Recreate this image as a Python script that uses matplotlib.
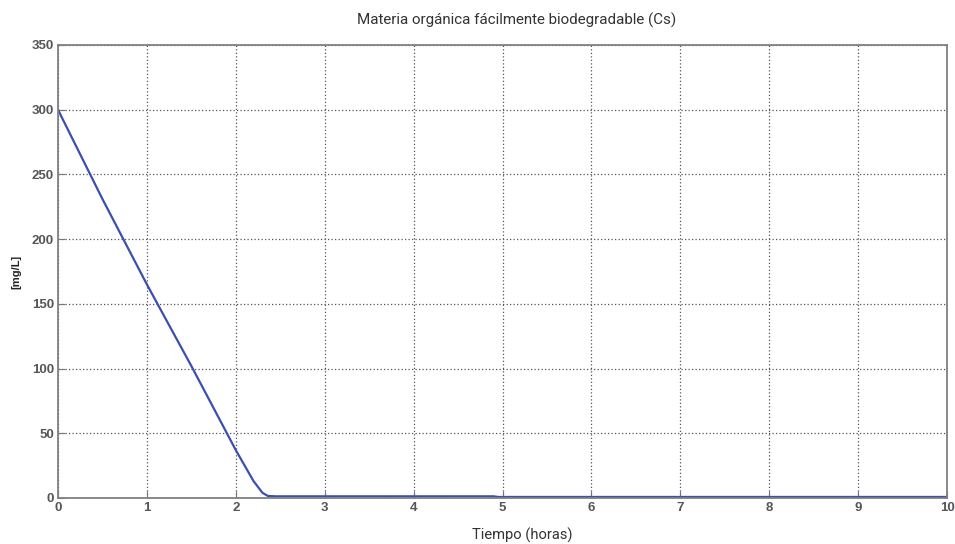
import matplotlib
matplotlib.use("Agg")
import matplotlib.pyplot as plt

# concentración de Cs en el tiempo
tiempo = [0, 0.5, 1.0, 1.5, 2.0, 2.2, 2.3, 2.36, 2.45, 4.9, 4.95, 10]
cs = [300, 231, 165, 102, 37, 13, 4, 1.6, 1.3, 1.3, 0.8, 0.8]

x_ticks = list(range(0, 11))
y_ticks = list(range(0, 351, 50))

fig = plt.figure(figsize=(9.55, 5.44), dpi=100)
ax = fig.add_axes([58 / 955, 46 / 544, 889 / 955, 453 / 544])

ax.plot(tiempo, cs, color="#3a4fb0", linewidth=1.6, solid_joinstyle="round")

ax.set_xlim(0, 10)
ax.set_ylim(0, 350)
ax.set_xticks(x_ticks)
ax.set_yticks(y_ticks)
ax.grid(True, linestyle=(0, (1.0, 1.8)), color="#555555", linewidth=0.9)
ax.tick_params(direction="in", length=5, color="#777777", labelcolor="#555555",
               labelsize=9.5, pad=3)
for lbl in ax.get_xticklabels() + ax.get_yticklabels():
    lbl.set_family("Liberation Sans")
    lbl.set_fontweight("bold")
for s in ax.spines.values():
    s.set_color("#808080")
    s.set_linewidth(1.3)

ax.set_ylabel("[mg/L]", fontsize=8, fontweight="bold", family="Liberation Sans",
              color="#222222", labelpad=7)

fig.text(517 / 955, 1 - 20 / 544, "Materia orgánica fácilmente biodegradable (Cs)",
         ha="center", va="center", fontsize=10.9, family="Roboto", color="#333333")
fig.text(522 / 955, 1 - 535 / 544, "Tiempo (horas)", ha="center", va="center",
         fontsize=10.6, family="Roboto", color="#333333")

fig.savefig("out.png", dpi=100, facecolor="white")
